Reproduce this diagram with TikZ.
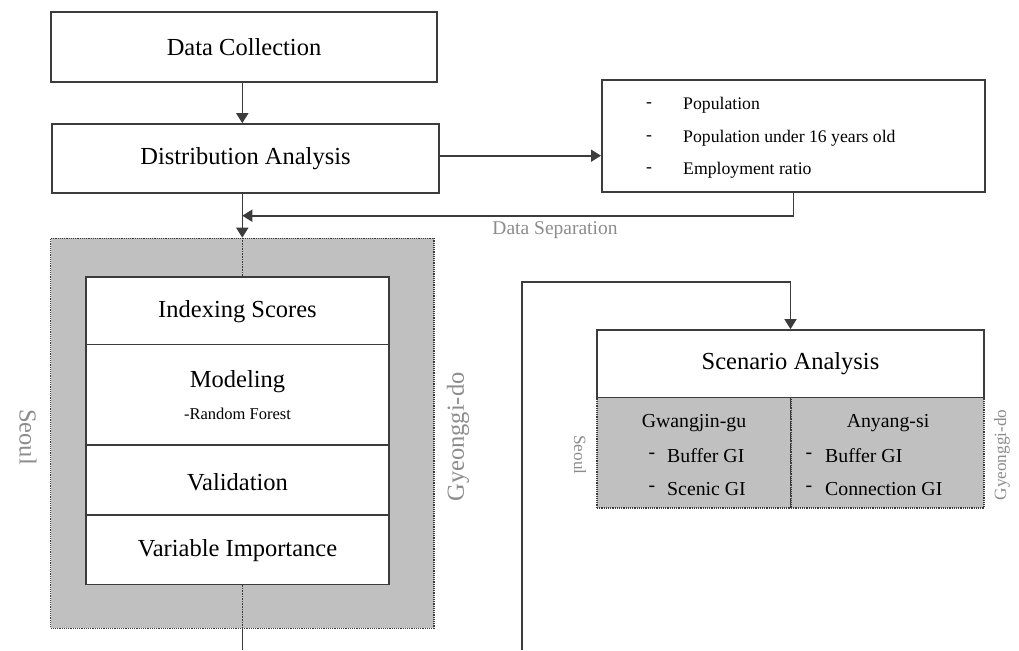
\documentclass[tikz,border=0pt]{standalone}
\usepackage{fontspec}
\setmainfont{Liberation Serif}
\usetikzlibrary{arrows.meta,calc}
\definecolor{boxgray}{RGB}{192,192,192}
\definecolor{labgray}{RGB}{140,140,140}
\definecolor{linecol}{RGB}{60,60,60}
\tikzset{
  box/.style={draw=linecol,line width=1.6pt,fill=white,inner sep=0pt,align=center},
  graybox/.style={draw=linecol,line width=1.2pt,densely dotted,fill=boxgray,inner sep=0pt},
  conn/.style={draw=linecol,line width=1.6pt},
  arr/.style={conn,-{Triangle[length=10pt,width=12pt]}},
  big/.style={font=\fontsize{24.5}{28}\selectfont},
  mid/.style={font=\fontsize{19.8}{24}\selectfont},
  small/.style={font=\fontsize{17.7}{20}\selectfont},
  rfont/.style={font=\fontsize{16.5}{20}\selectfont},
  dsfont/.style={font=\fontsize{19.5}{22}\selectfont},
  slab/.style={font=\fontsize{17.2}{20}\selectfont},
  lab/.style={text=labgray},
}
\begin{document}
\begin{tikzpicture}[x=1pt,y=-1pt]
\useasboundingbox (0,0) rectangle (1019,650);
\coordinate (cx) at (242.3,0);
% top boxes
\node[box,big,minimum width=386pt,minimum height=70pt] (dc) at (244,47) {Data Collection};
\node[box,big,minimum width=387pt,minimum height=69pt] (da) at (245.5,158.5) {Distribution Analysis};
\node[box,minimum width=383pt,minimum height=112pt] (pop) at (793.3,136) {};
\foreach \t/\y in {Population/105,Population under 16 years old/138,Employment ratio/170}{
  \node[small,anchor=center] at (649,\y) {-};
  \node[small,anchor=west,inner sep=0pt] at (683,\y) {\t};
}
% gray Seoul/Gyeonggi box
\node[graybox,minimum width=383.3pt,minimum height=390pt] (gray) at (242.3,433.3) {};
\node[box,minimum width=303pt,minimum height=307.6pt] (stack) at (237.5,430.5) {};
\node[big,inner sep=0pt] (ist) at (237.5,312) {Indexing Scores};
\node[big,inner sep=0pt] (modt) at (237.5,382) {Modeling};
\node[rfont,inner sep=0pt] (rf) at (237.5,414) {-Random Forest};
\node[big,inner sep=0pt] (valt) at (237.5,482) {Validation};
\node[big,inner sep=0pt] (vit) at (237.5,551) {Variable Importance};
\draw[conn] (stack.west |- 0,344.3) -- (stack.east |- 0,344.3);
\draw[conn] (stack.west |- 0,445) -- (stack.east |- 0,445);
\draw[conn] (stack.west |- 0,515) -- (stack.east |- 0,515);
\node[big,lab,rotate=-90] (seoul) at (28,437) {Seoul};
\node[big,lab,rotate=90] (gg) at (458,437) {Gyeonggi-do};
% connectors
\draw[arr] (dc.south -| cx) -- (da.north -| cx);
\draw[arr] (da.east |- 0,155.7) -- (pop.west |- 0,155.7);
\draw[arr] (da.south -| cx) -- (gray.north -| cx);
\coordinate (fb) at (793.3,215.7);
\draw[arr] (pop.south -| fb) -- (fb) -- (cx |- fb);
\node[dsfont,lab] (ds) at (555,230) {Data Separation};
\draw[conn,densely dotted,line width=1.2pt] (gray.north -| cx) -- (stack.north -| cx);
\draw[conn,densely dotted,line width=1.2pt] (stack.south -| cx) -- (gray.south -| cx);
\coordinate (bot) at (242.3,650);
\draw[conn] (gray.south -| cx) -- (bot);
% scenario
\node[graybox,minimum width=194pt,minimum height=110.3pt] (gw) at (694,452.8) {};
\node[graybox,minimum width=193pt,minimum height=110.3pt] (an) at (887.5,452.8) {};
\node[box,big,minimum width=387pt,minimum height=67.7pt] (sa) at (790.5,363.8) {Scenario Analysis};
\node[mid] (gwt) at (694,423) {Gwangjin-gu};
\node[mid] at (652,456) {-};
\node[mid,anchor=west,inner sep=0pt] at (667,456) {Buffer GI};
\node[mid] at (652,489) {-};
\node[mid,anchor=west,inner sep=0pt] at (667,489) {Scenic GI};
\node[mid] (ant) at (888,423) {Anyang-si};
\node[mid] at (809,456) {-};
\node[mid,anchor=west,inner sep=0pt] at (825,456) {Buffer GI};
\node[mid] at (809,489) {-};
\node[mid,anchor=west,inner sep=0pt] at (825,489) {Connection GI};
\node[slab,lab,rotate=-90] (seoul2) at (580,455) {Seoul};
\node[slab,lab,rotate=90] (gg2) at (1002,455) {Gyeonggi-do};
\coordinate (rb) at (522,650);
\coordinate (rt) at (522,281.7);
\draw[arr] (rb) -- (rt) -| (sa.north);
\end{tikzpicture}
\end{document}
